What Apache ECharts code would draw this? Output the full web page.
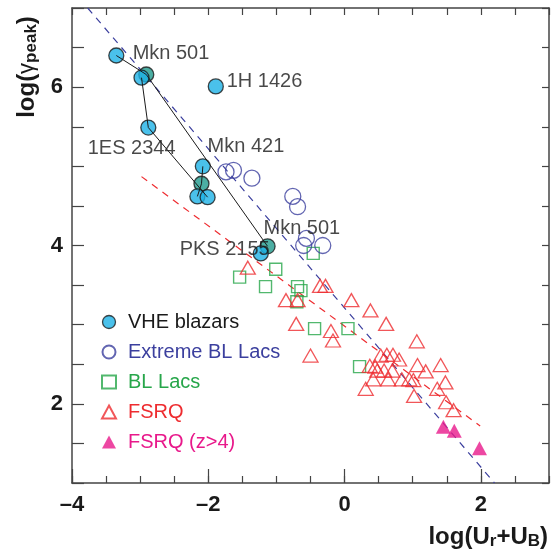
<!DOCTYPE html>
<html><head><meta charset="utf-8">
<script src="https://cdn.jsdelivr.net/npm/echarts@6/dist/echarts.min.js"></script>
<style>html,body{margin:0;padding:0;background:#fff}#c{width:552px;height:552px}</style>
</head><body><div id="c"></div>
<script>
// ---- data ----
const vheX = [-3.35, -2.91, -2.98, -1.89, -2.88, -2.08, -2.10, -2.16, -2.01, -1.13, -1.23];
const vheY = [6.40, 6.16, 6.12, 6.01, 5.49, 5.00, 4.78, 4.62, 4.61, 3.99, 3.90];
const vheTracks = [[0, 1, 9], [2, 4, 8], [5, 6, 7]];
const extX = [-1.74, -1.63, -1.36, -0.76, -0.69, -0.56, -0.60, -0.32];
const extY = [4.93, 4.95, 4.85, 4.62, 4.49, 4.09, 4.00, 4.00];
const blX = [-0.46, -1.54, -1.01, -1.16, -0.69, -0.64, -0.70, -0.44, 0.05, 0.22];
const blY = [3.90, 3.60, 3.70, 3.48, 3.48, 3.43, 3.29, 2.95, 2.95, 2.47];
const fsrqX = [-1.42, -0.86, -0.69, -0.36, -0.28, 0.10, 0.38, 0.61, -0.71, -0.20, -0.17, -0.50, 1.06, 0.37, 0.53, 0.62, 0.71, 0.80, 0.48, 0.58, 0.70, 1.07, 1.19, 1.41, 0.42, 0.64, 0.84, 0.95, 0.31, 1.48, 1.36, 1.02, 1.49, 1.60, 0.45, 1.01];
const fsrqY = [3.72, 3.31, 3.31, 3.49, 3.49, 3.31, 3.18, 3.01, 3.01, 2.92, 2.80, 2.61, 2.79, 2.48, 2.61, 2.62, 2.62, 2.56, 2.42, 2.42, 2.42, 2.49, 2.41, 2.49, 2.31, 2.31, 2.31, 2.31, 2.19, 2.27, 2.19, 2.10, 2.02, 1.92, 2.47, 2.30];
const z4X = [1.45, 1.61, 1.98];
const z4Y = [1.71, 1.66, 1.44];
const blueFitX = [-3.77, 2.20];
const blueFitY = [7.0, 1.0];
const redFitX = [-2.98, 1.99];
const redFitY = [4.87, 1.72];
const labelText = ['Mkn 501', '1H 1426', '1ES 2344', 'Mkn 421', 'Mkn 501', 'PKS 2155'];
const labelX = [-3.11, -1.73, -3.77, -2.01, -1.19, -2.42];
const labelY = [6.42, 6.07, 5.23, 5.25, 4.21, 3.95];
const xTickLabels = [-4, -2, 0, 2];
const yTickLabels = [2, 4, 6];
const seriesNames = ['VHE blazars', 'Extreme BL Lacs', 'BL Lacs', 'FSRQ', 'FSRQ (z>4)'];

// ---- styles ----
const FONT = '"Liberation Sans", Arial, Helvetica, sans-serif';
const C_VHE = '#1db1e6', C_VHE_DARK = '#1f9a8c';
const VHE_DARK = [1, 6, 9];
const C_EXT = '#3b3f9e', C_BL = '#27a64a', C_FSRQ = '#ee2c30', C_Z4 = '#e8198b';
const FRAME = '#444';

const zip = (xs, ys) => xs.map((x, i) => [x, ys[i]]);
const vheData = vheX.map((x, i) => VHE_DARK.includes(i)
  ? { value: [x, vheY[i]], itemStyle: { color: C_VHE_DARK } }
  : { value: [x, vheY[i]] });
const trackSeries = vheTracks.map(t => ({
  type: 'line', data: t.map(i => [vheX[i], vheY[i]]), symbol: 'none', silent: true,
  lineStyle: { color: '#1a1a1a', width: 1 }, z: 6, animation: false
}));
const fmtX = v => xTickLabels.includes(v) ? (v < 0 ? '\u2013' + (-v) : String(v)) : '';
const fmtY = v => yTickLabels.includes(v) ? String(v) : '';
const tickStyle = { color: FRAME, width: 1.2 };
const lineOn = { show: true, onZero: false, lineStyle: { color: FRAME, width: 1.5 } };

const chart = echarts.init(document.getElementById('c'), null, { renderer: 'canvas' });
chart.setOption({
  animation: false,
  backgroundColor: '#fff',
  grid: [
    { left: 72, right: 3, top: 8, bottom: 69 },
    { left: 72, right: 3, top: 8, bottom: 69 }
  ],
  xAxis: [
    { type: 'value', gridIndex: 0, position: 'bottom', min: -4, max: 3, interval: 2,
      axisLine: lineOn,
      axisTick: { show: true, inside: true, length: 14, lineStyle: tickStyle },
      axisLabel: { formatter: fmtX, fontSize: 22, fontWeight: 'bold', color: '#1a1a1a', fontFamily: FONT, margin: 11, showMaxLabel: false },
      splitLine: { show: false } },
    { type: 'value', gridIndex: 0, position: 'top', min: -4, max: 3, interval: 0.5,
      axisLine: lineOn,
      axisTick: { show: true, inside: true, length: 7, lineStyle: tickStyle },
      axisLabel: { show: false }, splitLine: { show: false } },
    { type: 'value', gridIndex: 1, position: 'bottom', min: -4, max: 3, interval: 0.5,
      axisLine: { show: false, onZero: false },
      axisTick: { show: true, inside: true, length: 7, lineStyle: tickStyle },
      axisLabel: { show: false }, splitLine: { show: false } }
  ],
  yAxis: [
    { type: 'value', gridIndex: 0, position: 'left', min: 1, max: 7, interval: 0.5,
      axisLine: lineOn,
      axisTick: { show: true, inside: true, length: 12, lineStyle: tickStyle },
      axisLabel: { formatter: fmtY, fontSize: 22, fontWeight: 'bold', color: '#1a1a1a', fontFamily: FONT, margin: 9 },
      splitLine: { show: false } },
    { type: 'value', gridIndex: 0, position: 'right', min: 1, max: 7, interval: 0.5,
      axisLine: lineOn,
      axisTick: { show: true, inside: true, length: 7, lineStyle: tickStyle },
      axisLabel: { show: false }, splitLine: { show: false } },
    { type: 'value', gridIndex: 1, min: 1, max: 7, show: false, axisLine: { onZero: false } }
  ],
  legend: {
    orient: 'vertical', left: 96, top: 307, itemWidth: 14, itemHeight: 13, itemGap: 10,
    textStyle: { fontSize: 20, fontFamily: FONT, padding: [0, 0, 0, 7] },
    selectedMode: false,
    data: [
      { name: seriesNames[0], textStyle: { color: '#1a1a1a' }, itemStyle: { color: C_VHE, borderColor: '#1a1a1a', borderWidth: 1.3 } },
      { name: seriesNames[1], textStyle: { color: C_EXT } },
      { name: seriesNames[2], textStyle: { color: C_BL } },
      { name: seriesNames[3], textStyle: { color: C_FSRQ } },
      { name: seriesNames[4], textStyle: { color: C_Z4 } }
    ]
  },
  series: [
    { type: 'line', name: 'blueFit', data: zip(blueFitX, blueFitY), symbol: 'none', silent: true,
      lineStyle: { color: '#3b3f9e', width: 1.2, type: [7, 6] }, z: 1 },
    { type: 'line', name: 'redFit', data: zip(redFitX, redFitY), symbol: 'none', silent: true,
      lineStyle: { color: C_FSRQ, width: 1.2, type: [7, 6] }, z: 1 },
    { type: 'scatter', name: seriesNames[2], data: zip(blX, blY), symbol: 'rect', symbolSize: 12,
      itemStyle: { color: 'rgba(0,0,0,0)', borderColor: C_BL, borderWidth: 1.4 }, z: 3 },
    { type: 'scatter', name: seriesNames[3], data: zip(fsrqX, fsrqY), symbol: 'triangle', symbolSize: [15, 13],
      itemStyle: { color: 'rgba(0,0,0,0)', borderColor: C_FSRQ, borderWidth: 1.3 }, z: 3 },
    { type: 'scatter', name: seriesNames[4], data: zip(z4X, z4Y), symbol: 'triangle', symbolSize: [15, 14],
      itemStyle: { color: C_Z4 }, z: 3 },
    { type: 'scatter', name: seriesNames[1], data: zip(extX, extY), symbol: 'circle', symbolSize: 16,
      itemStyle: { color: 'rgba(0,0,0,0)', borderColor: C_EXT, borderWidth: 1.3 }, z: 4 },
    { type: 'scatter', name: seriesNames[0], data: vheData, symbol: 'circle', symbolSize: 15,
      itemStyle: { color: C_VHE, borderColor: '#1a1a1a', borderWidth: 1.3 }, z: 5 },
    ...trackSeries,
    { type: 'scatter', name: 'labels', silent: true, symbolSize: 0, z: 7,
      data: labelText.map((t, i) => ({ name: t, value: [labelX[i], labelY[i]] })),
      label: { show: true, position: 'right', distance: 0, formatter: p => p.name,
        fontSize: 20, color: '#1a1a1a', fontFamily: FONT } }
  ],
  graphic: [
    { type: 'text', x: 27, y: 67, rotation: Math.PI / 2, silent: true,
      style: { text: '{b|log(}{g|\u03b3}{s|peak}{b|)}', textAlign: 'center', textVerticalAlign: 'middle',
        fill: '#1a1a1a', fontFamily: FONT,
        rich: { b: { fontSize: 24, fontWeight: 'bold', lineHeight: 26, fontFamily: FONT, fill: '#1a1a1a' },
                g: { fontSize: 22, lineHeight: 26, fontFamily: FONT, fill: '#1a1a1a' },
                s: { fontSize: 17, fontWeight: 'bold', lineHeight: 11, verticalAlign: 'bottom', fontFamily: FONT, fill: '#1a1a1a' } } } },
    { type: 'text', x: 548, y: 537, silent: true,
      style: { text: '{b|log(U}{s|r}{b|+U}{s|B}{b|)}', textAlign: 'right', textVerticalAlign: 'middle',
        fill: '#1a1a1a', fontFamily: FONT,
        rich: { b: { fontSize: 24, fontWeight: 'bold', lineHeight: 26, fontFamily: FONT, fill: '#1a1a1a' },
                s: { fontSize: 17, fontWeight: 'bold', lineHeight: 11, verticalAlign: 'bottom', fontFamily: FONT, fill: '#1a1a1a' } } } }
  ]
});
</script>
</body></html>
